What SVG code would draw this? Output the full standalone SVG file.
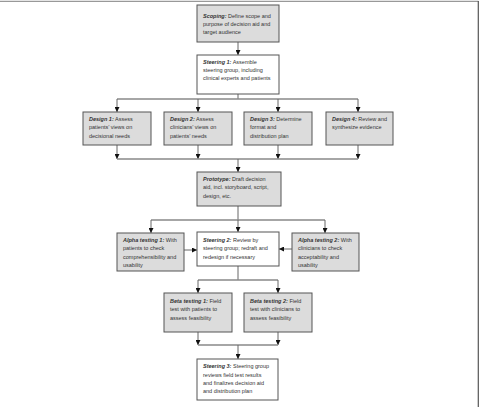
<svg xmlns="http://www.w3.org/2000/svg" width="479" height="407" viewBox="0 0 479 407">
<style>
.bx{stroke:#555;stroke-width:1}
.g{fill:#dcdcdc}
.w{fill:#fff}
text{font-family:"Liberation Sans",Arial,sans-serif;font-size:5.5px;fill:#333}
.b{font-weight:bold;font-style:italic}
.c{stroke:#666;stroke-width:1;fill:none}
.h{stroke:#888;stroke-width:1.5;fill:none}
.f{stroke:#999;stroke-width:1.2;fill:none}
</style>
<defs>
<marker id="ah" viewBox="0 0 6 6" refX="6" refY="3" markerWidth="5" markerHeight="5" orient="auto" markerUnits="userSpaceOnUse">
<path d="M0,0 L6,3 L0,6 Z" fill="#111"/>
</marker>
</defs>
<rect width="479" height="407" fill="#fff"/>
<g id="frame">
<line x1="0" y1="1.3" x2="478.5" y2="1.3" class="f"/>
<line x1="478.3" y1="1" x2="478.3" y2="407" stroke="#555" stroke-width="1.2"/>
</g>
<g id="connectors">
<line x1="238" y1="42" x2="238" y2="55" class="c" marker-end="url(#ah)"/>
<line x1="238" y1="94" x2="238" y2="99" class="c"/>
<line x1="117" y1="99" x2="358" y2="99" class="h"/>
<line x1="117" y1="99" x2="117" y2="112" class="c" marker-end="url(#ah)"/>
<line x1="198" y1="99" x2="198" y2="112" class="c" marker-end="url(#ah)"/>
<line x1="278" y1="99" x2="278" y2="112" class="c" marker-end="url(#ah)"/>
<line x1="358" y1="99" x2="358" y2="112" class="c" marker-end="url(#ah)"/>
<line x1="117" y1="145" x2="117" y2="159" class="c" marker-end="url(#ah)"/>
<line x1="198" y1="145" x2="198" y2="159" class="c" marker-end="url(#ah)"/>
<line x1="278" y1="145" x2="278" y2="159" class="c" marker-end="url(#ah)"/>
<line x1="358" y1="145" x2="358" y2="159" class="c" marker-end="url(#ah)"/>
<line x1="117" y1="159" x2="358" y2="159" class="h"/>
<line x1="238" y1="159" x2="238" y2="172" class="c" marker-end="url(#ah)"/>
<line x1="238" y1="206" x2="238" y2="220" class="c"/>
<line x1="151" y1="220" x2="325" y2="220" class="h"/>
<line x1="151" y1="220" x2="151" y2="233" class="c" marker-end="url(#ah)"/>
<line x1="238" y1="220" x2="238" y2="232" class="c" marker-end="url(#ah)"/>
<line x1="325" y1="220" x2="325" y2="233" class="c" marker-end="url(#ah)"/>
<line x1="184" y1="250" x2="197" y2="250" class="c" marker-end="url(#ah)"/>
<line x1="292" y1="249" x2="279" y2="249" class="c" marker-end="url(#ah)"/>
<line x1="238" y1="266" x2="238" y2="280" class="c"/>
<line x1="198" y1="280" x2="278" y2="280" class="h"/>
<line x1="198" y1="280" x2="198" y2="293" class="c" marker-end="url(#ah)"/>
<line x1="278" y1="280" x2="278" y2="293" class="c" marker-end="url(#ah)"/>
<line x1="198" y1="332" x2="198" y2="345" class="c" marker-end="url(#ah)"/>
<line x1="278" y1="332" x2="278" y2="345" class="c" marker-end="url(#ah)"/>
<line x1="198" y1="345" x2="278" y2="345" class="h"/>
<line x1="238" y1="345" x2="238" y2="359" class="c" marker-end="url(#ah)"/>
</g>
<g id="scoping">
<rect x="197" y="5" width="82" height="37" class="bx g"/>
<text x="203" y="17.5"><tspan class="b">Scoping:</tspan> Define scope and</text>
<text x="203" y="25.8">purpose of decision aid and</text>
<text x="203" y="34.1">target audience</text>
</g>
<g id="steering1">
<rect x="197" y="55" width="82" height="39" class="bx w"/>
<text x="203" y="63.7"><tspan class="b">Steering 1:</tspan> Assemble</text>
<text x="203" y="72">steering group, including</text>
<text x="203" y="80.3">clinical experts and patients</text>
</g>
<g id="design1">
<rect x="83" y="112" width="68" height="33" class="bx g"/>
<text x="89" y="121"><tspan class="b">Design 1:</tspan> Assess</text>
<text x="89" y="129.3">patients’ views on</text>
<text x="89" y="137.6">decisional needs</text>
</g>
<g id="design2">
<rect x="164" y="112" width="68" height="33" class="bx g"/>
<text x="170" y="121"><tspan class="b">Design 2:</tspan> Assess</text>
<text x="170" y="129.3">clinicians’ views on</text>
<text x="170" y="137.6">patients’ needs</text>
</g>
<g id="design3">
<rect x="244" y="112" width="68" height="33" class="bx g"/>
<text x="250" y="121"><tspan class="b">Design 3:</tspan> Determine</text>
<text x="250" y="129.3">format and</text>
<text x="250" y="137.6">distribution plan</text>
</g>
<g id="design4">
<rect x="326" y="112" width="67" height="33" class="bx g"/>
<text x="332" y="121"><tspan class="b">Design 4:</tspan> Review and</text>
<text x="332" y="129.3">synthesize evidence</text>
</g>
<g id="prototype">
<rect x="197" y="172" width="84" height="34" class="bx g"/>
<text x="203" y="181"><tspan class="b">Prototype:</tspan> Draft decision</text>
<text x="203" y="189.3">aid, incl. storyboard, script,</text>
<text x="203" y="197.6">design, etc.</text>
</g>
<g id="alpha1">
<rect x="117" y="233" width="67" height="38" class="bx g"/>
<text x="123" y="242"><tspan class="b">Alpha testing 1:</tspan> With</text>
<text x="123" y="250.3">patients to check</text>
<text x="123" y="258.6">comprehensibility and</text>
<text x="123" y="266.9">usability</text>
</g>
<g id="steering2">
<rect x="197" y="232" width="82" height="34" class="bx w"/>
<text x="203" y="242"><tspan class="b">Steering 2:</tspan> Review by</text>
<text x="203" y="250.3">steering group; redraft and</text>
<text x="203" y="258.6">redesign if necessary</text>
</g>
<g id="alpha2">
<rect x="292" y="233" width="67" height="38" class="bx g"/>
<text x="298" y="242"><tspan class="b">Alpha testing 2:</tspan> With</text>
<text x="298" y="250.3">clinicians to check</text>
<text x="298" y="258.6">acceptability and</text>
<text x="298" y="266.9">usability</text>
</g>
<g id="beta1">
<rect x="164" y="293" width="68" height="39" class="bx g"/>
<text x="170" y="303"><tspan class="b">Beta testing 1:</tspan> Field</text>
<text x="170" y="311.3">test with patients to</text>
<text x="170" y="319.6">assess feasibility</text>
</g>
<g id="beta2">
<rect x="244" y="293" width="68" height="39" class="bx g"/>
<text x="250" y="303"><tspan class="b">Beta testing 2:</tspan> Field</text>
<text x="250" y="311.3">test with clinicians to</text>
<text x="250" y="319.6">assess feasibility</text>
</g>
<g id="steering3">
<rect x="197" y="359" width="81" height="41" class="bx w"/>
<text x="203" y="368.3"><tspan class="b">Steering 3:</tspan> Steering group</text>
<text x="203" y="376.6">reviews field test results</text>
<text x="203" y="384.9">and finalizes decision aid</text>
<text x="203" y="393.2">and distribution plan</text>
</g>
</svg>
